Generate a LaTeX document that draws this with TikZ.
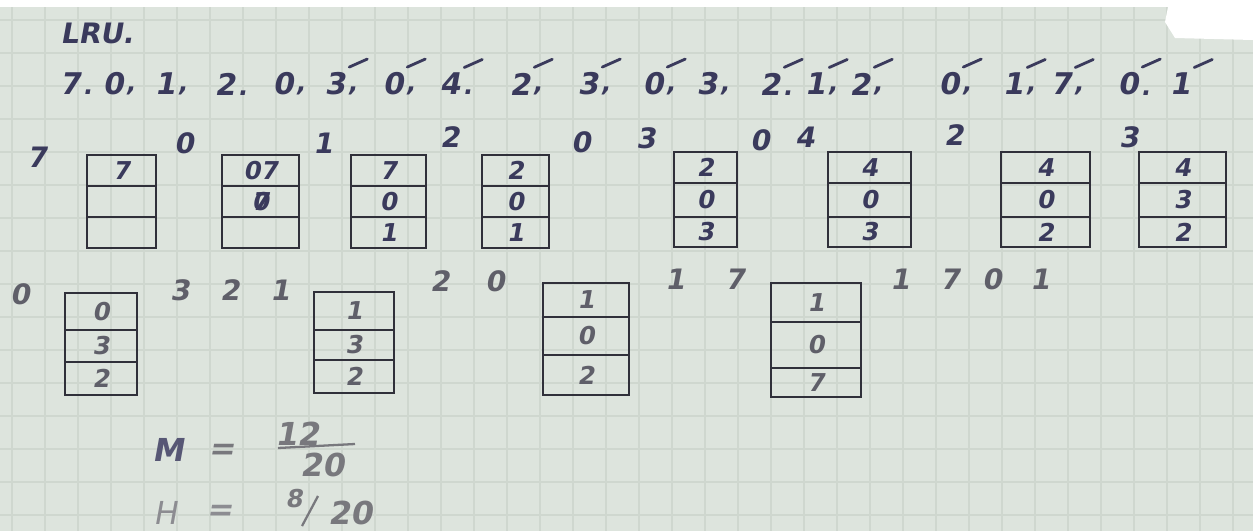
\documentclass[tikz,border=0pt]{standalone}
\usepackage{fontspec}
\newfontfamily\hand[FakeSlant=0.18]{DejaVu Sans}
\definecolor{paper}{RGB}{221,228,221}
\definecolor{gridc}{RGB}{207,215,207}
\definecolor{ink}{RGB}{58,58,92}
\definecolor{boxink}{RGB}{48,48,58}
\definecolor{lightink}{RGB}{95,95,105}
\definecolor{greyink}{RGB}{120,120,125}
\tikzset{
  seqd/.style={font=\hand\bfseries\fontsize{17}{17}\selectfont, text=ink, inner sep=0pt},
  sepd/.style={font=\hand\bfseries\fontsize{14}{14}\selectfont, text=ink, inner sep=0pt},
  tick/.style={draw=ink, line width=1.6pt, line cap=round},
  lbl/.style={font=\hand\bfseries\fontsize{16}{16}\selectfont, text=ink, inner sep=0pt},
  lbltwo/.style={font=\hand\bfseries\fontsize{16}{16}\selectfont, text=lightink, inner sep=0pt},
  celltxt/.style={font=\hand\bfseries\fontsize{14}{14}\selectfont, text=ink, inner sep=0pt},
  boxline/.style={draw=boxink, line width=1.5pt},
  mh/.style={font=\hand\bfseries\fontsize{18}{18}\selectfont, inner sep=0pt}
}
\begin{document}
\begin{tikzpicture}[x=0.02cm,y=-0.02cm]
\useasboundingbox (0,0) rectangle (1253,531);
% paper
\fill[paper] (0,0) rectangle (1253,531);
\foreach \gx in {12,45,...,1253} \draw[gridc, line width=0.8pt] (\gx,7) -- (\gx,531);
\foreach \gy in {20,53,...,531} \draw[gridc, line width=0.8pt] (0,\gy) -- (1253,\gy);
\fill[white] (0,0) rectangle (1253,7);
\fill[white] (1168,7) -- (1253,7) -- (1253,40) -- (1175,38) -- (1165,22) -- cycle;
% title
\node[seqd, anchor=west, font=\hand\bfseries\fontsize{16}{16}\selectfont] (title) at (60,33) {LRU.};
% reference string
\foreach \i/\x/\d/\s/\tk in {1/70/7/./0, 2/113/0/{,}/0, 3/165/1/{,}/0, 4/225/2/./0,
  5/283/0/{,}/0, 6/335/3/{,}/1, 7/393/0/{,}/1, 8/450/4/./1, 9/520/2/{,}/1,
  10/588/3/{,}/1, 11/653/0/{,}/1, 12/707/3/{,}/0, 13/770/2/./1, 14/815/1/{,}/1,
  15/860/2/{,}/1, 16/949/0/{,}/1, 17/1013/1/{,}/1, 18/1061/7/{,}/1, 19/1128/0/./1, 20/1180/1//1}{
  \node[seqd] (s\i) at (\x,84) {\d};
  \node[sepd, anchor=south west] (p\i) at ([xshift=1pt]s\i.south east) {\s};
  \ifnum\tk=1 \draw[tick] ([xshift=2pt,yshift=3pt]s\i.north east) -- ++(18,-8); \fi
}
% frames
\foreach \nm/\xa/\xb/\ya/\yb/\yc/\yd/\ta/\tb/\tc/\tcol in {
  A/87/156/155/186/217/248/7///ink,
  B/222/299/155/186/217/248/07/{\rlap{0}7}//ink,
  C/351/426/155/186/217/248/7/0/1/ink,
  D/482/549/155/186/217/248/2/0/1/ink,
  E/674/737/152/183/217/247/2/0/3/ink,
  F/828/911/152/183/217/247/4/0/3/ink,
  G/1001/1090/152/183/217/247/4/0/2/ink,
  H/1139/1226/152/183/217/247/4/3/2/ink,
  I/65/137/293/330/362/395/0/3/2/lightink,
  J/314/394/292/330/360/393/1/3/2/lightink,
  K/543/629/283/317/355/395/1/0/2/lightink,
  L/771/861/283/322/368/397/1/0/7/lightink}{
  \draw[boxline] (\xa,\ya) rectangle (\xb,\yd);
  \draw[boxline] (\xa,\yb) -- (\xb,\yb);
  \draw[boxline] (\xa,\yc) -- (\xb,\yc);
  \node[celltxt, text=\tcol] (\nm1) at ({(\xa+\xb)/2},{(\ya+\yb)/2}) {\ta};
  \node[celltxt, text=\tcol] (\nm2) at ({(\xa+\xb)/2},{(\yb+\yc)/2}) {\tb};
  \node[celltxt, text=\tcol] (\nm3) at ({(\xa+\xb)/2},{(\yc+\yd)/2}) {\tc};
}
% labels of arriving pages
\foreach \j/\x/\y/\d in {a/37/157/7, b/184/143/0, c/323/143/1, d/450/137/2,
  e/581/142/0, f/646/138/3, g/760/140/0, h/805/137/4, k/954/135/2, m/1129/137/3}{
  \node[lbl] (l\j) at (\x,\y) {\d};
}
\foreach \j/\x/\y/\d in {a/20/294/0, b/180/290/3, c/230/290/2, d/280/290/1,
  e/440/281/2, f/495/281/0, g/675/279/1, h/735/279/7, k/900/279/1, m/950/279/7,
  n/992/279/0, o/1040/279/1}{
  \node[lbltwo] (r\j) at (\x,\y) {\d};
}
% results
\node[mh, text=ink!85] (M) at (168,450) {M};
\node[mh, text=greyink] (Meq) at (222,452) {=};
\node[mh, text=greyink] (Mnum) at (297,434) {12};
\draw[greyink, line width=1.3pt] (278,448) -- (355,444);
\node[mh, text=greyink] (Mden) at (322,465) {20};
\node[mh, text=greyink!85, font=\hand\fontsize{18}{18}\selectfont] (H) at (165,513) {H};
\node[mh, text=greyink!85] (Heq) at (220,513) {=};
\node[mh, text=greyink, font=\hand\bfseries\fontsize{14}{14}\selectfont] (Hnum) at (294,499) {8};
\draw[greyink, line width=1.3pt] (302,526) -- (318,496);
\node[mh, text=greyink] (Hden) at (350,513) {20};
\end{tikzpicture}
\end{document}
